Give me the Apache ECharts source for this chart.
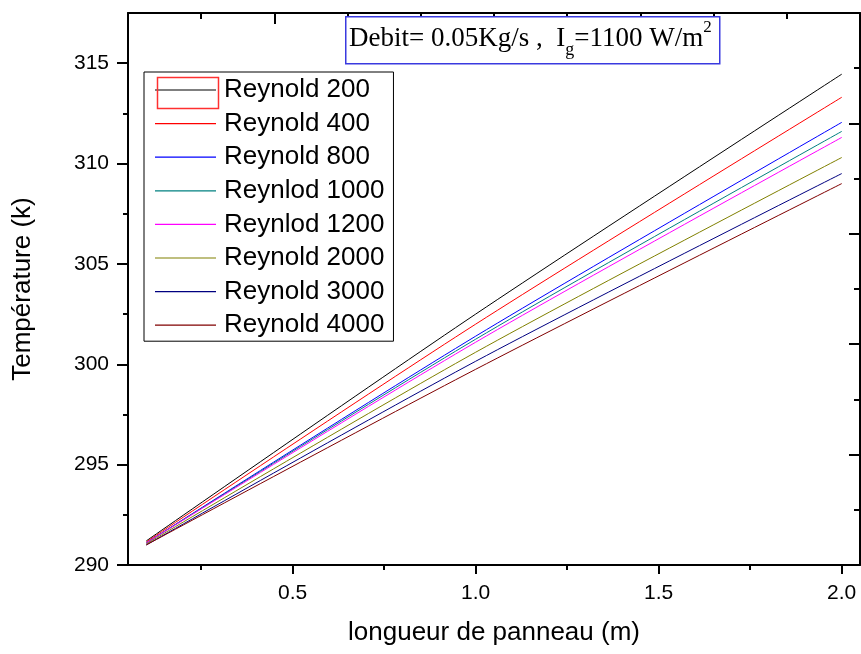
<!DOCTYPE html>
<html>
<head>
<meta charset="utf-8">
<title>Température le long du panneau</title>
<script src="https://cdn.jsdelivr.net/npm/echarts@6/dist/echarts.min.js"></script>
<style>
  html, body { margin: 0; padding: 0; background: #fff; }
  #chart { width: 861px; height: 654px; }
</style>
</head>
<body>
<div id="chart"></div>
<script>
// longueur de panneau (m)
var longueur = [0.1, 1.0, 2.0];

// température (k), une liste par nombre de Reynolds
var reynold200  = [291.2, 302.5, 314.45];
var reynold400  = [291.15, 302.0, 313.3];
var reynold800  = [291.1, 301.4, 312.05];
var reynlod1000 = [291.1, 301.25, 311.6];
var reynlod1200 = [291.1, 301.1, 311.3];
var reynold2000 = [291.05, 300.6, 310.3];
var reynold3000 = [291.0, 300.15, 309.5];
var reynold4000 = [291.0, 299.75, 309.0];

var noms = ['Reynold 200', 'Reynold 400', 'Reynold 800', 'Reynlod 1000',
            'Reynlod 1200', 'Reynold 2000', 'Reynold 3000', 'Reynold 4000'];
var valeurs = [reynold200, reynold400, reynold800, reynlod1000,
               reynlod1200, reynold2000, reynold3000, reynold4000];
var couleurs = ['#000000', '#ff0000', '#0000ff', '#008080',
                '#ff00ff', '#808000', '#000080', '#800000'];

// graduations
var xLabels = [0.5, 1.0, 1.5, 2.0];
var xMinor = [0.25, 0.75, 1.25, 1.75];
var yLabels = [290, 295, 300, 305, 310, 315];
var yMinor = [292.5, 297.5, 302.5, 307.5, 312.5];

var sans = 'Liberation Sans, Arial, sans-serif';
var serif = 'Liberation Serif, Times New Roman, serif';

var chart = echarts.init(document.getElementById('chart'));

var series = noms.map(function (nom, i) {
  return {
    name: nom,
    type: 'line',
    smooth: 0.3,
    symbol: 'none',
    xAxisIndex: 0,
    yAxisIndex: 0,
    lineStyle: { color: couleurs[i], width: 1 },
    itemStyle: { color: couleurs[i] },
    data: longueur.map(function (x, j) { return [x, valeurs[i][j]]; })
  };
});

var ligneAxe = { show: true, lineStyle: { color: '#000', width: 2 } };

var option = {
  animation: false,
  backgroundColor: '#fff',
  grid: { left: 128, right: 1, top: 13, bottom: 89, containLabel: false, outerBoundsMode: 'none' },
  legend: {
    orient: 'vertical',
    left: 144,
    top: 72,
    padding: [5, 9, 3, 11],
    icon: 'rect',
    itemWidth: 61,
    itemHeight: 1.2,
    itemGap: 7.6,
    backgroundColor: '#fff',
    borderColor: '#000',
    borderWidth: 1,
    textStyle: { fontFamily: sans, fontSize: 26, lineHeight: 26, color: '#000', padding: [0, 0, 0, 3] },
    data: noms
  },
  xAxis: [
    {
      type: 'value', position: 'bottom', min: 0.05, max: 2.05,
      name: 'longueur de panneau (m)', nameLocation: 'middle', nameGap: 55,
      nameTextStyle: { fontFamily: sans, fontSize: 26, color: '#000' },
      axisLine: ligneAxe,
      axisTick: { show: true, inside: false, length: 9, customValues: xLabels, lineStyle: { color: '#000', width: 2 } },
      axisLabel: {
        customValues: xLabels, margin: 18, fontFamily: sans, fontSize: 21, color: '#000',
        formatter: function (v) { return v.toFixed(1); }
      },
      splitLine: { show: false }
    },
    {
      type: 'value', position: 'bottom', min: 0.05, max: 2.05,
      axisLine: { show: false },
      axisTick: { show: true, inside: false, length: 5, customValues: xMinor, lineStyle: { color: '#000', width: 2 } },
      axisLabel: { show: false },
      splitLine: { show: false }
    },
    {
      type: 'value', position: 'top', min: 0, max: 5, interval: 1,
      axisLine: ligneAxe,
      axisTick: { show: true, inside: true, length: 11, lineStyle: { color: '#000', width: 2 } },
      minorTick: { show: true, splitNumber: 2, length: 6, lineStyle: { color: '#000', width: 2 } },
      axisLabel: { show: false },
      splitLine: { show: false }
    }
  ],
  yAxis: [
    {
      type: 'value', position: 'left', min: 290, max: 317.5,
      name: 'Température (k)', nameLocation: 'middle', nameGap: 92,
      nameTextStyle: { fontFamily: sans, fontSize: 26, color: '#000' },
      axisLine: ligneAxe,
      axisTick: { show: true, inside: false, length: 11, customValues: yLabels, lineStyle: { color: '#000', width: 2 } },
      axisLabel: { customValues: yLabels, margin: 19, fontFamily: sans, fontSize: 21, color: '#000' },
      splitLine: { show: false }
    },
    {
      type: 'value', position: 'left', min: 290, max: 317.5,
      axisLine: { show: false },
      axisTick: { show: true, inside: false, length: 5, customValues: yMinor, lineStyle: { color: '#000', width: 2 } },
      axisLabel: { show: false },
      splitLine: { show: false }
    },
    {
      type: 'value', position: 'right', min: 0, max: 5, interval: 1,
      axisLine: ligneAxe,
      axisTick: { show: true, inside: true, length: 11, lineStyle: { color: '#000', width: 2 } },
      minorTick: { show: true, splitNumber: 2, length: 6, lineStyle: { color: '#000', width: 2 } },
      axisLabel: { show: false },
      splitLine: { show: false }
    }
  ],
  graphic: [
    // cadre du titre
    {
      type: 'rect', left: 345, top: 16, z: 100,
      shape: { width: 374, height: 47 },
      style: { fill: '#fff', stroke: '#3a3adf', lineWidth: 1.5 }
    },
    {
      type: 'text', left: 349, top: 19, z: 101,
      style: {
        text: '{m|Debit= 0.05Kg/s ,  I}{sub|g}{m|=1100 W/m}{sup|2}',
        font: '27px ' + serif,
        fill: '#000',
        rich: {
          m: { fontFamily: serif, fontSize: 27, lineHeight: 40, fill: '#000' },
          sub: { fontFamily: serif, fontSize: 18, verticalAlign: 'bottom', lineHeight: 14, fill: '#000' },
          sup: { fontFamily: serif, fontSize: 17, verticalAlign: 'top', lineHeight: 18, fill: '#000' }
        }
      }
    },
    // cadre rouge autour du premier symbole de légende
    {
      type: 'rect', left: 155, top: 75, z: 100,
      shape: { width: 61, height: 31 },
      style: { fill: 'none', stroke: '#ff3030', lineWidth: 1.5 }
    }
  ],
  series: series
};

chart.setOption(option);
</script>
</body>
</html>
